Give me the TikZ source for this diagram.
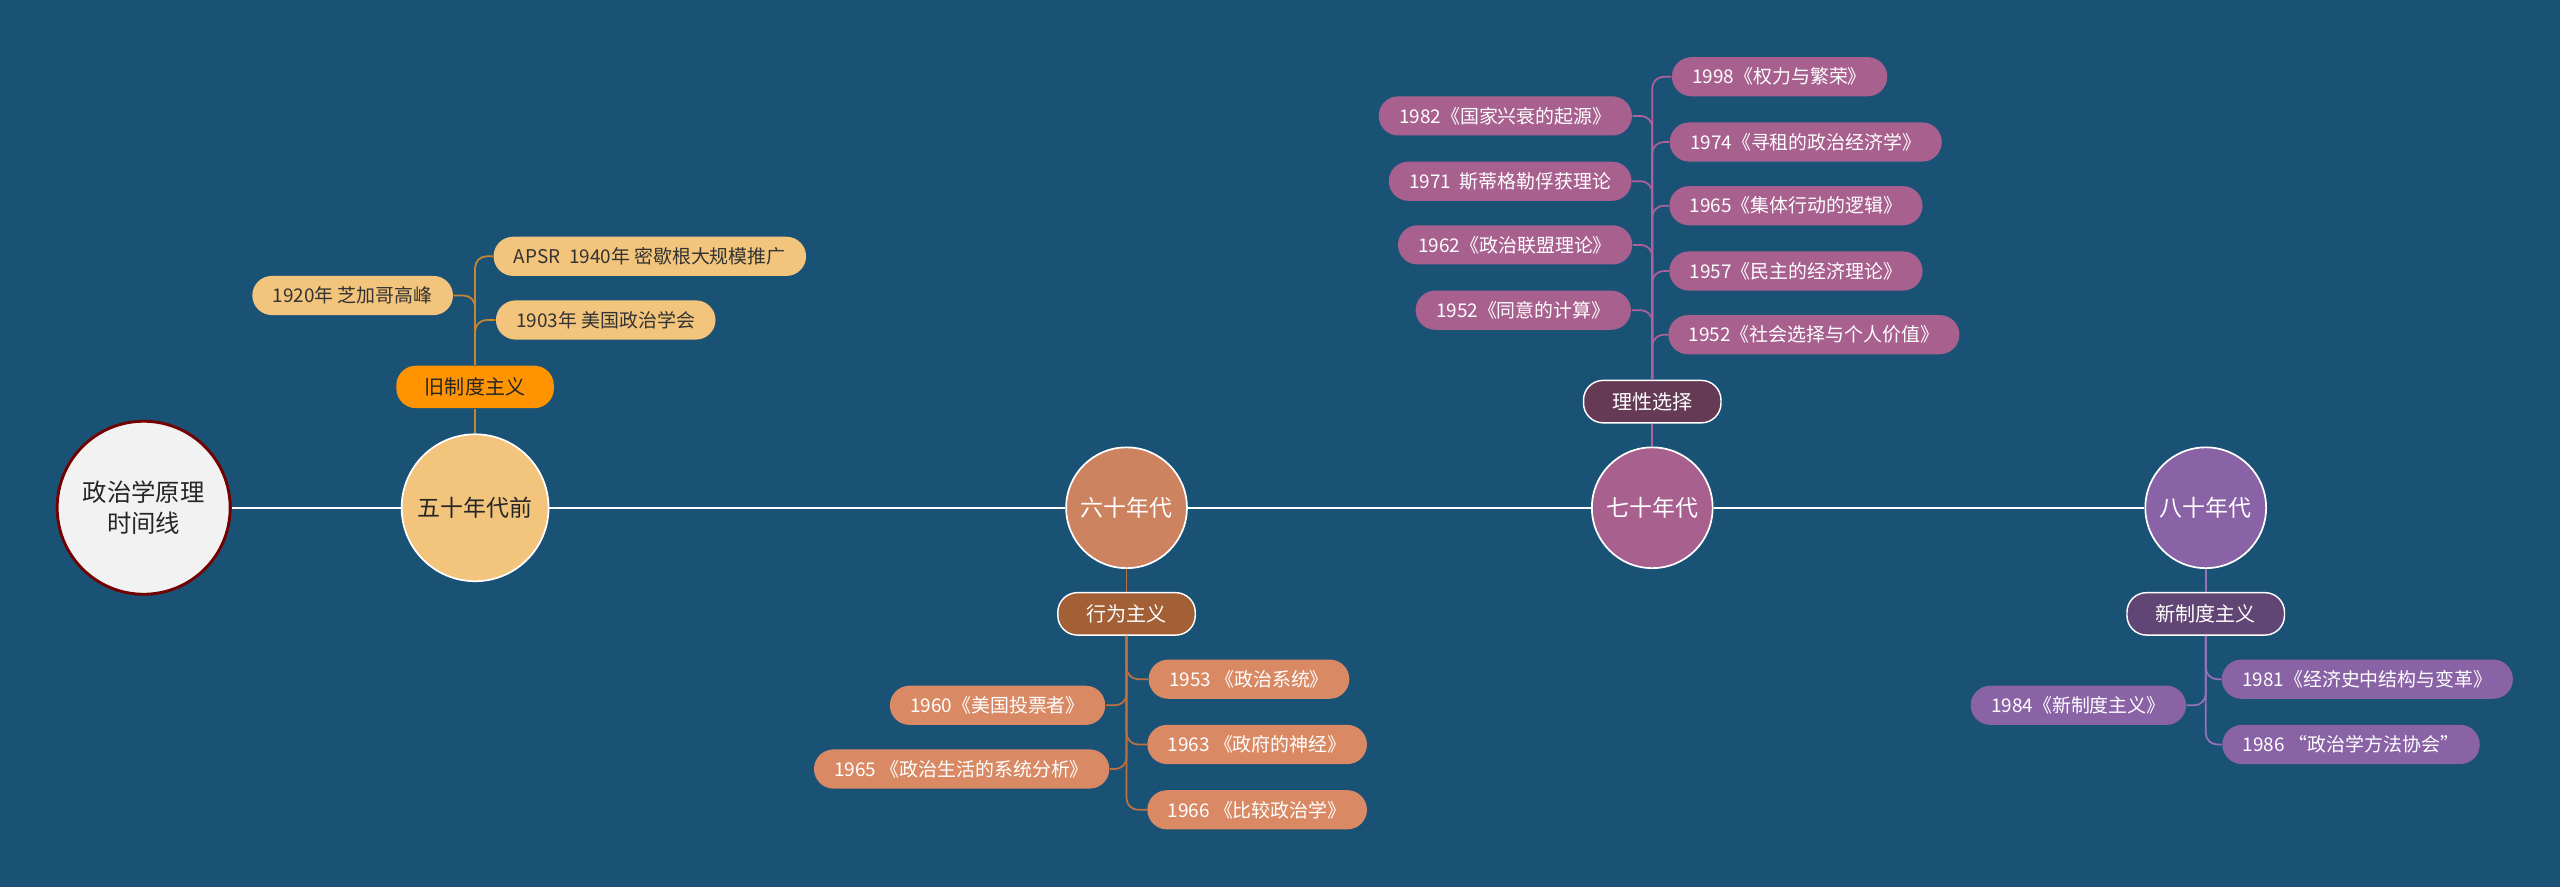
\documentclass[tikz,border=0pt]{standalone}
\usepackage{fontspec}
\setmainfont{Noto Sans CJK SC}
\begin{document}
\begin{tikzpicture}[x=0.02cm,y=-0.02cm,
 pill/.style={rectangle,rounded corners=0.24cm,minimum height=0.48cm,inner xsep=0.25cm,font=\fontsize{6.6}{8}\selectfont,draw=none},
 p1/.style={pill,fill=c1p,text=black!80},
 p2/.style={pill,fill=c2p,text=white},
 p3/.style={pill,fill=c3p,text=white},
 p4/.style={pill,fill=c4p,text=white},
 hub/.style={circle,font=\fontsize{8}{10}\selectfont,draw=white,line width=0.6pt},
 cat/.style={pill,minimum height=0.52cm,inner xsep=0.35cm,font=\fontsize{7}{9}\selectfont,draw=white,line width=0.5pt},
 l1/.style={draw=c1l,line width=0.6pt,rounded corners=4pt},
 l2/.style={draw=c2l,line width=0.6pt,rounded corners=4pt},
 l3/.style={draw=c3l,line width=0.6pt,rounded corners=4pt},
 l4/.style={draw=c4l,line width=0.6pt,rounded corners=4pt}]
\definecolor{bg}{HTML}{1A5276}
\definecolor{c1p}{HTML}{F2C47C}\definecolor{c1l}{HTML}{C8872E}
\definecolor{c2p}{HTML}{D98A65}\definecolor{c2l}{HTML}{C0703E}
\definecolor{c3p}{HTML}{A8608E}\definecolor{c3l}{HTML}{B0609A}
\definecolor{c4p}{HTML}{8A62A6}\definecolor{c4l}{HTML}{9A70B8}
\fill[bg] (0,0) rectangle (1568,543);
\useasboundingbox (0,0) rectangle (1568,543);
% hubs
\node[circle,fill=black!5,draw=red!45!black,line width=1pt,minimum size=2.12cm,align=center,font=\fontsize{8.5}{11}\selectfont,text=black!85] (root) at (88,311) {政治学原理\\时间线};
\node[hub,fill=c1p,minimum size=1.8cm,text=black!85] (h1) at (291,311) {五十年代前};
\node[hub,fill=c2p!95!black,minimum size=1.48cm,text=white] (h2) at (690,311) {六十年代};
\node[hub,fill=c3p,minimum size=1.48cm,text=white] (h3) at (1012,311) {七十年代};
\node[hub,fill=c4p,minimum size=1.48cm,text=white] (h4) at (1351,311) {八十年代};
\draw[white,line width=0.8pt] (root) -- (h1) (h1) -- (h2) (h2) -- (h3) (h3) -- (h4);
% categories
\node[cat,fill=orange!85!yellow,text=black!85,draw=none] (k1) at (291,237) {旧制度主义};
\node[cat,fill=c2l!85!black,text=white] (k2) at (690,376) {行为主义};
\node[cat,fill=red!35!blue!45!black!80!magenta,fill=c3p!60!black,text=white] (k3) at (1012,246) {理性选择};
\node[cat,fill=c4p!70!black,text=white] (k4) at (1351,376) {新制度主义};
\draw[l1] (h1) -- (k1);
\draw[l2] (h2) -- (k2);
\draw[l3] (h3) -- (k3);
\draw[l4] (h4) -- (k4);
% branch 1
\node[p1] (a1) at (398,157) {APSR\ \ 1940年 密歇根大规模推广};
\node[p1] (a2) at (371,196) {1903年 美国政治学会};
\node[p1] (a3) at (216,181) {1920年 芝加哥高峰};
\foreach \n in {a1,a2} \draw[l1] (k1.north) |- (\n.west);
\draw[l1] (k1.north) |- (a3.east);
% branch 2
\node[p2] (b1) at (765,416) {1953 《政治系统》};
\node[p2] (b2) at (770,456) {1963 《政府的神经》};
\node[p2] (b3) at (770,496) {1966 《比较政治学》};
\node[p2] (b4) at (611,432) {1960《美国投票者》};
\node[p2] (b5) at (589,471) {1965 《政治生活的系统分析》};
\foreach \n in {b1,b2,b3} \draw[l2] (k2.south) |- (\n.west);
\foreach \n in {b4,b5} \draw[l2] (k2.south) |- (\n.east);
% branch 3
\node[p3] (c1) at (1090,47) {1998《权力与繁荣》};
\node[p3] (c2) at (1106,87) {1974《寻租的政治经济学》};
\node[p3] (c3) at (1100,126) {1965《集体行动的逻辑》};
\node[p3] (c4) at (1100,166) {1957《民主的经济理论》};
\node[p3] (c5) at (1111,205) {1952《社会选择与个人价值》};
\node[p3] (c6) at (922,71) {1982《国家兴衰的起源》};
\node[p3] (c7) at (925,111) {1971\ \ 斯蒂格勒俘获理论};
\node[p3] (c8) at (928,150) {1962《政治联盟理论》};
\node[p3] (c9) at (933,190) {1952《同意的计算》};
\foreach \n in {c1,c2,c3,c4,c5} \draw[l3] (k3.north) |- (\n.west);
\foreach \n in {c6,c7,c8,c9} \draw[l3] (k3.north) |- (\n.east);
% branch 4
\node[p4] (d1) at (1450,416) {1981《经济史中结构与变革》};
\node[p4] (d2) at (1440,456) {1986 “政治学方法协会”};
\node[p4] (d3) at (1273,432) {1984《新制度主义》};
\foreach \n in {d1,d2} \draw[l4] (k4.south) |- (\n.west);
\draw[l4] (k4.south) |- (d3.east);
\end{tikzpicture}
\end{document}
